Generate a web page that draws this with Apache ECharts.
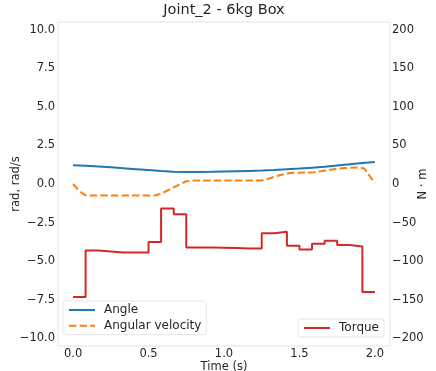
<!DOCTYPE html>
<html>
<head>
<meta charset="utf-8">
<script src="https://cdn.jsdelivr.net/npm/echarts@6/dist/echarts.min.js"></script>
<style>
  html, body { margin: 0; padding: 0; background: #fff; }
  #joint_chart { width: 436px; height: 371px; }
</style>
</head>
<body>
<div id="joint_chart"></div>
<script>
// time axis (s)
var time = [0, 0.083, 0.167, 0.25, 0.333, 0.417, 0.5, 0.583, 0.667, 0.75, 0.833, 0.917,
            1.0, 1.083, 1.167, 1.25, 1.333, 1.417, 1.5, 1.583, 1.667, 1.75, 1.833, 1.917, 2.0];
// joint angle (rad)
var angle = [1.21, 1.18, 1.14, 1.08, 1.02, 0.96, 0.9, 0.84, 0.79, 0.77, 0.78, 0.79,
             0.81, 0.83, 0.85, 0.87, 0.9, 0.95, 1.0, 1.06, 1.12, 1.2, 1.28, 1.36, 1.42];
// angular velocity (rad/s)
var velTime = [0, 0.04, 0.083, 0.5, 0.55, 0.6, 0.7, 0.75, 0.8, 1.25, 1.3, 1.35, 1.42, 1.46,
               1.6, 1.65, 1.75, 1.8, 1.9, 1.93, 2.0];
var velocity = [0, -0.45, -0.74, -0.75, -0.73, -0.55, -0.05, 0.18, 0.22, 0.23, 0.36, 0.52, 0.69, 0.73,
                0.76, 0.84, 0.99, 1.04, 1.07, 1.0, 0.05];
// torque (N·m), one value per step, last value held to t = 2.0
var torque = [-146.6, -86.1, -87.4, -88.7, -88.7, -88.7, -75.3, -31.8, -39.1, -82.2, -82.4, -82.6,
              -83.0, -83.5, -83.5, -63.9, -61.8, -80.0, -84.8, -77.5, -73.5, -79.2, -80.9, -140.0, -140.0];

var xTicks = [0, 0.5, 1.0, 1.5, 2.0];
var leftTicks = [-10, -7.5, -5, -2.5, 0, 2.5, 5, 7.5, 10];
var rightTicks = [-200, -150, -100, -50, 0, 50, 100, 150, 200];

function pairs(xs, ys) {
  var out = [];
  for (var i = 0; i < xs.length; i++) out.push([xs[i], ys[i]]);
  return out;
}
function fmt(v, d) {
  var s = Math.abs(v).toFixed(d);
  return (v < 0 ? '\u2212' : '') + s;
}

var FONT = 'DejaVu Sans';
var TXT = '#262626';

var myChart = echarts.init(document.getElementById('joint_chart'));
var option = {
  animation: false,
  backgroundColor: '#fff',
  textStyle: { fontFamily: FONT },
  title: {
    text: 'Joint_2 - 6kg Box',
    left: 224,
    top: 3,
    textAlign: 'center',
    padding: 0,
    textStyle: { fontFamily: FONT, fontSize: 14.5, fontWeight: 'normal', color: TXT }
  },
  grid: {
    left: 58, right: 46, top: 22, bottom: 25,
    containLabel: false,
    outerBoundsMode: 'none',
    show: true, borderColor: '#e3e3e3', borderWidth: 1, backgroundColor: '#fff'
  },
  legend: [
    {
      data: ['Angle', 'Angular velocity'],
      orient: 'vertical',
      left: 63, top: 301,
      padding: [3, 5, 3, 5],
      itemWidth: 26, itemHeight: 14, itemGap: 3.7,
      itemStyle: { opacity: 0 },
      borderColor: '#e6e6e6', borderWidth: 1, borderRadius: 3,
      backgroundColor: 'rgba(255,255,255,0.8)',
      textStyle: { fontFamily: FONT, fontSize: 12, color: TXT, padding: [0, 0, 0, 4] }
    },
    {
      data: ['Torque'],
      orient: 'vertical',
      right: 52, top: 319,
      padding: [3, 5, 3, 5],
      itemWidth: 26, itemHeight: 14,
      itemStyle: { opacity: 0 },
      borderColor: '#e6e6e6', borderWidth: 1, borderRadius: 3,
      backgroundColor: 'rgba(255,255,255,0.8)',
      textStyle: { fontFamily: FONT, fontSize: 12, color: TXT, padding: [0, 0, 0, 4] }
    }
  ],
  xAxis: {
    type: 'value',
    min: -0.1, max: 2.1,
    name: 'Time (s)',
    nameLocation: 'middle',
    nameGap: 15,
    nameMoveOverlap: false,
    nameTextStyle: { fontFamily: FONT, fontSize: 11.5, color: TXT },
    axisLine: { show: false },
    axisTick: { show: false },
    splitLine: { show: false },
    axisLabel: {
      customValues: xTicks,
      margin: 2,
      fontFamily: FONT, fontSize: 11.5, color: TXT,
      formatter: function (v) { return fmt(v, 1); }
    }
  },
  yAxis: [
    {
      type: 'value',
      min: -10.5, max: 10.5,
      name: 'rad, rad/s',
      nameLocation: 'middle',
      nameRotate: 90,
      nameGap: 36,
      nameMoveOverlap: false,
      nameTextStyle: { fontFamily: FONT, fontSize: 11.5, color: TXT },
      axisLine: { show: false },
      axisTick: { show: false },
      splitLine: { show: false },
      axisLabel: {
        customValues: leftTicks,
        margin: 3,
        fontFamily: FONT, fontSize: 11.5, color: TXT,
        formatter: function (v) { return fmt(v, 1); }
      }
    },
    {
      type: 'value',
      min: -210, max: 210,
      position: 'right',
      name: 'N \u00b7 m',
      nameLocation: 'middle',
      nameRotate: 90,
      nameGap: 27,
      nameMoveOverlap: false,
      nameTextStyle: { fontFamily: FONT, fontSize: 11.5, color: TXT },
      axisLine: { show: false },
      axisTick: { show: false },
      splitLine: { show: false },
      axisLabel: {
        customValues: rightTicks,
        margin: 2,
        fontFamily: FONT, fontSize: 11.5, color: TXT,
        formatter: function (v) { return fmt(v, 0); }
      }
    }
  ],
  series: [
    {
      name: 'Angle',
      type: 'line',
      yAxisIndex: 0,
      showSymbol: false, symbol: 'none',
      color: '#1f77b4',
      lineStyle: { color: '#1f77b4', width: 2 },
      data: pairs(time, angle)
    },
    {
      name: 'Angular velocity',
      type: 'line',
      yAxisIndex: 0,
      showSymbol: false, symbol: 'none',
      color: '#ff7f0e',
      lineStyle: { color: '#ff7f0e', width: 2, type: [7.4, 3.2] },
      data: pairs(velTime, velocity)
    },
    {
      name: 'Torque',
      type: 'line',
      yAxisIndex: 1,
      step: 'end',
      showSymbol: false, symbol: 'none',
      color: '#d62728',
      lineStyle: { color: '#d62728', width: 2 },
      data: pairs(time, torque)
    }
  ]
};
myChart.setOption(option);
</script>
</body>
</html>
